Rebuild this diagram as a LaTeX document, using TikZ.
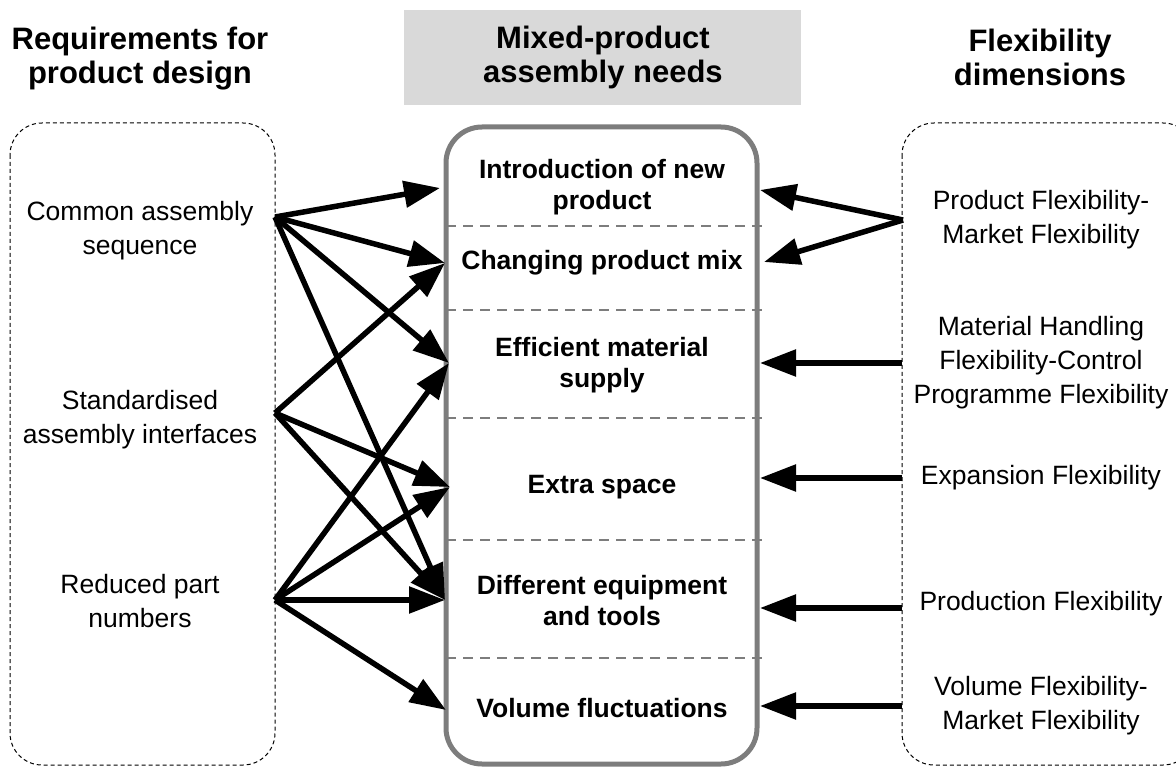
\documentclass[tikz,border=0pt]{standalone}
\usepackage{fontspec}
\setmainfont{Liberation Sans}
\usetikzlibrary{arrows.meta}
\definecolor{hdrgray}{RGB}{217,217,217}
\definecolor{bordergray}{RGB}{125,125,125}
\begin{document}
\begin{tikzpicture}[x=1pt,y=-1pt,
  every node/.style={inner sep=0pt, align=center},
  lab/.style={font=\fontsize{26.5}{34}\selectfont},
  need/.style={font=\fontsize{26.5}{31}\selectfont\bfseries},
  ttl/.style={font=\fontsize{31}{34}\selectfont\bfseries},
  dashbox/.style={draw, dash pattern=on 4pt off 3pt, line width=1pt, rounded corners=32pt},
  sepline/.style={draw=bordergray, dash pattern=on 10pt off 7pt, line width=1.2pt},
  arr/.style={line width=5.5pt, -{Triangle[length=36pt,width=26pt]}},
]
\useasboundingbox (0,0) rectangle (1176,767);
\clip (0,0) rectangle (1176,767);

% header box
\fill[hdrgray] (404,10) rectangle (801,105);

% titles
\node[ttl] (tl) at (140,59) {Requirements for\\product design};
\node[ttl] (tm) at (603,57) {Mixed-product\\assembly needs};
\node[ttl] (tr) at (1040,57) {Flexibility\\dimensions};

% side boxes
\draw[dashbox] (10,123) rectangle (275,765);
\draw[dashbox] (902,123) rectangle (1195,765);

% centre box separators
\foreach \yy in {226,310,418,540,658}
  \draw[sepline] (446,\yy) -- (762,\yy);
% centre box
\draw[bordergray, line width=5pt, rounded corners=36pt] (446,127) rectangle (757,764);

% centre texts
\node[need] (n1) at (602,187) {Introduction of new\\product};
\node[need] (n2) at (602,263) {Changing product mix};
\node[need] (n3) at (602,365) {Efficient material\\supply};
\node[need] (n4) at (602,487) {Extra space};
\node[need] (n5) at (602,601) {Different equipment\\and tools};
\node[need] (n6) at (602,708) {Volume fluctuations};

% left texts
\node[lab] (lA) at (140,231) {Common assembly\\sequence};
\node[lab] (lB) at (140,420) {Standardised\\assembly interfaces};
\node[lab] (lC) at (140,601) {Reduced part\\numbers};

% right texts
\node[lab] (r1) at (1041,220) {Product Flexibility-\\Market Flexibility};
\node[lab] (r2) at (1041,363) {Material Handling\\Flexibility-Control\\Programme Flexibility};
\node[lab] (r3) at (1041,478) {Expansion Flexibility};
\node[lab] (r4) at (1041,604) {Production Flexibility};
\node[lab] (r5) at (1041,706) {Volume Flexibility-\\Market Flexibility};

% connector end points
\coordinate (sA) at (275,217);
\coordinate (sB) at (275,413);
\coordinate (sC) at (275,600);
\coordinate (t1) at (440,188);
\coordinate (t2) at (445,263);
\coordinate (t3) at (449,363);
\coordinate (t4) at (450,487);
\coordinate (t5) at (445,600);
\coordinate (t6) at (446,710);

\coordinate (q1) at (903,220);
\coordinate (q2) at (902,363);
\coordinate (q3) at (902,478);
\coordinate (q4) at (902,608);
\coordinate (q5) at (902,706);
\coordinate (u1) at (760,190);
\coordinate (u2) at (764,262);
\coordinate (u3) at (760,363);
\coordinate (u4) at (760,478);
\coordinate (u5) at (760,608);
\coordinate (u6) at (760,706);

% left arrows
\draw[arr] (sA) -- (t1);
\draw[arr] (sA) -- (t2);
\draw[arr] (sA) -- (t3);
\draw[arr] (sA) -- (t5);
\draw[arr] (sB) -- (t2);
\draw[arr] (sB) -- (t4);
\draw[arr] (sB) -- (t5);
\draw[arr] (sC) -- (t3);
\draw[arr] (sC) -- (t4);
\draw[arr] (sC) -- (t5);
\draw[arr] (sC) -- (t6);

% right arrows
\draw[arr] (q1) -- (u1);
\draw[arr] (q1) -- (u2);
\draw[arr] (q2) -- (u3);
\draw[arr] (q3) -- (u4);
\draw[arr] (q4) -- (u5);
\draw[arr] (q5) -- (u6);
\end{tikzpicture}
\end{document}
